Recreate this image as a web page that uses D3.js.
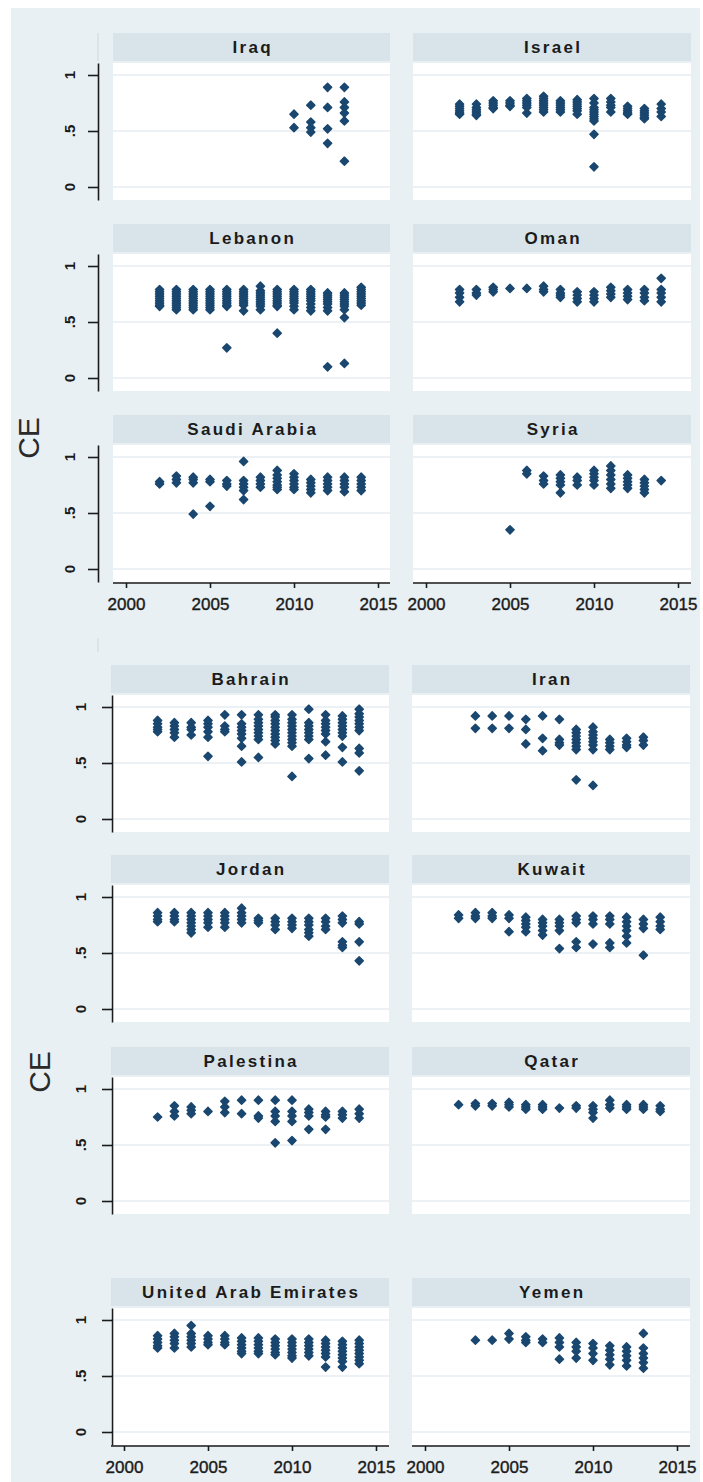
<!DOCTYPE html>
<html>
<head>
<meta charset="utf-8">
<script src="https://cdn.jsdelivr.net/npm/d3@7"></script>
<style>
  html, body { margin: 0; padding: 0; background: #ffffff; }
  svg { display: block; }
</style>
</head>
<body>
<svg id="chart" width="703" height="1482"></svg>
<script>
// ---- CE scores by country: [year, [observations]] ----
const iraq = [
  [2010, [0.65, 0.53]],
  [2011, [0.73, 0.58, 0.53, 0.49]],
  [2012, [0.89, 0.71, 0.52, 0.39]],
  [2013, [0.89, 0.76, 0.71, 0.66, 0.59, 0.23]]
];
const israel = [
  [2002, [0.74, 0.72, 0.70, 0.68, 0.66, 0.65]],
  [2003, [0.74, 0.71, 0.69, 0.67, 0.65, 0.64]],
  [2004, [0.77, 0.75, 0.73, 0.71, 0.70]],
  [2005, [0.77, 0.75, 0.73, 0.72]],
  [2006, [0.79, 0.77, 0.75, 0.73, 0.71, 0.66]],
  [2007, [0.81, 0.79, 0.77, 0.75, 0.73, 0.71, 0.69, 0.67]],
  [2008, [0.77, 0.75, 0.73, 0.71, 0.69, 0.67]],
  [2009, [0.78, 0.76, 0.74, 0.72, 0.70, 0.68, 0.65]],
  [2010, [0.79, 0.75, 0.71, 0.69, 0.67, 0.65, 0.63, 0.61, 0.59, 0.47, 0.18]],
  [2011, [0.79, 0.76, 0.73, 0.71, 0.67]],
  [2012, [0.72, 0.70, 0.68, 0.66, 0.65]],
  [2013, [0.70, 0.68, 0.66, 0.64, 0.62, 0.61]],
  [2014, [0.74, 0.70, 0.67, 0.63]]
];
const lebanon = [
  [2002, [0.79, 0.77, 0.75, 0.73, 0.71, 0.69, 0.67, 0.65, 0.64]],
  [2003, [0.79, 0.77, 0.75, 0.73, 0.71, 0.69, 0.67, 0.65, 0.63, 0.61]],
  [2004, [0.79, 0.77, 0.75, 0.73, 0.71, 0.69, 0.67, 0.65, 0.63, 0.61]],
  [2005, [0.79, 0.77, 0.75, 0.73, 0.71, 0.69, 0.67, 0.65, 0.63, 0.61]],
  [2006, [0.79, 0.77, 0.75, 0.73, 0.71, 0.69, 0.67, 0.65, 0.64, 0.27]],
  [2007, [0.79, 0.77, 0.75, 0.73, 0.71, 0.69, 0.67, 0.65, 0.60]],
  [2008, [0.82, 0.78, 0.76, 0.74, 0.72, 0.70, 0.68, 0.66, 0.64, 0.61]],
  [2009, [0.79, 0.77, 0.75, 0.73, 0.71, 0.69, 0.67, 0.65, 0.64, 0.40]],
  [2010, [0.79, 0.77, 0.75, 0.73, 0.71, 0.69, 0.67, 0.64, 0.61]],
  [2011, [0.79, 0.77, 0.75, 0.73, 0.71, 0.69, 0.66, 0.63, 0.60]],
  [2012, [0.76, 0.74, 0.72, 0.70, 0.68, 0.66, 0.63, 0.60, 0.10]],
  [2013, [0.76, 0.74, 0.72, 0.70, 0.68, 0.66, 0.64, 0.61, 0.54, 0.13]],
  [2014, [0.81, 0.79, 0.77, 0.75, 0.73, 0.71, 0.69, 0.67, 0.65]]
];
const oman = [
  [2002, [0.79, 0.76, 0.72, 0.68]],
  [2003, [0.79, 0.76, 0.74]],
  [2004, [0.81, 0.79, 0.77]],
  [2005, [0.80]],
  [2006, [0.80]],
  [2007, [0.82, 0.79, 0.77]],
  [2008, [0.79, 0.76, 0.74, 0.72]],
  [2009, [0.77, 0.74, 0.71, 0.68]],
  [2010, [0.77, 0.74, 0.71, 0.68]],
  [2011, [0.81, 0.78, 0.75, 0.72]],
  [2012, [0.79, 0.76, 0.73, 0.70]],
  [2013, [0.79, 0.76, 0.72, 0.69]],
  [2014, [0.89, 0.79, 0.76, 0.72, 0.68]]
];
const saudiArabia = [
  [2002, [0.78, 0.76]],
  [2003, [0.83, 0.80, 0.77]],
  [2004, [0.82, 0.80, 0.77, 0.49]],
  [2005, [0.80, 0.78, 0.56]],
  [2006, [0.79, 0.76, 0.74]],
  [2007, [0.96, 0.79, 0.76, 0.73, 0.70, 0.62]],
  [2008, [0.82, 0.79, 0.76, 0.73]],
  [2009, [0.88, 0.84, 0.81, 0.78, 0.75, 0.73, 0.71]],
  [2010, [0.85, 0.82, 0.79, 0.76, 0.73, 0.71]],
  [2011, [0.80, 0.77, 0.74, 0.71, 0.68]],
  [2012, [0.82, 0.79, 0.76, 0.73, 0.70]],
  [2013, [0.82, 0.79, 0.76, 0.73, 0.69]],
  [2014, [0.82, 0.79, 0.76, 0.73, 0.70]]
];
const syria = [
  [2005, [0.35]],
  [2006, [0.88, 0.85]],
  [2007, [0.83, 0.79, 0.76]],
  [2008, [0.84, 0.81, 0.78, 0.75, 0.68]],
  [2009, [0.82, 0.79, 0.75]],
  [2010, [0.88, 0.85, 0.82, 0.79, 0.75]],
  [2011, [0.92, 0.88, 0.84, 0.80, 0.76, 0.72]],
  [2012, [0.84, 0.81, 0.78, 0.75, 0.72]],
  [2013, [0.80, 0.77, 0.74, 0.71, 0.68]],
  [2014, [0.79]]
];
const bahrain = [
  [2002, [0.88, 0.85, 0.82, 0.80, 0.78]],
  [2003, [0.86, 0.83, 0.80, 0.77, 0.73]],
  [2004, [0.86, 0.82, 0.80, 0.75]],
  [2005, [0.88, 0.85, 0.82, 0.78, 0.73, 0.56]],
  [2006, [0.93, 0.83, 0.80, 0.78]],
  [2007, [0.93, 0.85, 0.82, 0.79, 0.76, 0.72, 0.65, 0.51]],
  [2008, [0.93, 0.89, 0.86, 0.83, 0.80, 0.77, 0.74, 0.71, 0.55]],
  [2009, [0.93, 0.91, 0.88, 0.85, 0.82, 0.79, 0.76, 0.73, 0.70, 0.67]],
  [2010, [0.93, 0.89, 0.86, 0.83, 0.80, 0.77, 0.74, 0.71, 0.68, 0.65, 0.38]],
  [2011, [0.98, 0.86, 0.83, 0.80, 0.77, 0.74, 0.71, 0.54]],
  [2012, [0.93, 0.88, 0.85, 0.82, 0.79, 0.76, 0.69, 0.57]],
  [2013, [0.92, 0.89, 0.86, 0.83, 0.80, 0.77, 0.74, 0.64, 0.51]],
  [2014, [0.98, 0.94, 0.91, 0.88, 0.85, 0.82, 0.79, 0.63, 0.59, 0.43]]
];
const iran = [
  [2003, [0.92, 0.81]],
  [2004, [0.92, 0.81]],
  [2005, [0.92, 0.81]],
  [2006, [0.89, 0.80, 0.67]],
  [2007, [0.92, 0.72, 0.61]],
  [2008, [0.89, 0.71, 0.68, 0.66]],
  [2009, [0.80, 0.77, 0.74, 0.71, 0.68, 0.65, 0.62, 0.35]],
  [2010, [0.82, 0.78, 0.75, 0.72, 0.69, 0.66, 0.62, 0.30]],
  [2011, [0.71, 0.68, 0.65, 0.62]],
  [2012, [0.72, 0.69, 0.66, 0.64]],
  [2013, [0.73, 0.70, 0.66]]
];
const jordan = [
  [2002, [0.86, 0.83, 0.80, 0.78]],
  [2003, [0.86, 0.83, 0.80, 0.78]],
  [2004, [0.86, 0.83, 0.80, 0.77, 0.74, 0.71, 0.68]],
  [2005, [0.86, 0.83, 0.80, 0.77, 0.73]],
  [2006, [0.86, 0.83, 0.80, 0.77, 0.73]],
  [2007, [0.90, 0.86, 0.83, 0.80, 0.77]],
  [2008, [0.81, 0.79, 0.77]],
  [2009, [0.81, 0.78, 0.75, 0.71]],
  [2010, [0.81, 0.78, 0.75, 0.72]],
  [2011, [0.81, 0.78, 0.75, 0.71, 0.68, 0.65]],
  [2012, [0.81, 0.78, 0.74, 0.71]],
  [2013, [0.83, 0.80, 0.77, 0.60, 0.57, 0.55]],
  [2014, [0.78, 0.76, 0.60, 0.43]]
];
const kuwait = [
  [2002, [0.84, 0.81]],
  [2003, [0.86, 0.83, 0.81]],
  [2004, [0.86, 0.83, 0.81]],
  [2005, [0.84, 0.81, 0.69]],
  [2006, [0.82, 0.79, 0.76, 0.73, 0.69]],
  [2007, [0.80, 0.77, 0.74, 0.70, 0.66]],
  [2008, [0.80, 0.77, 0.74, 0.70, 0.54]],
  [2009, [0.83, 0.80, 0.77, 0.60, 0.55]],
  [2010, [0.83, 0.80, 0.76, 0.58]],
  [2011, [0.83, 0.80, 0.76, 0.59, 0.55]],
  [2012, [0.82, 0.78, 0.74, 0.70, 0.65, 0.59]],
  [2013, [0.80, 0.76, 0.72, 0.48]],
  [2014, [0.82, 0.78, 0.74, 0.71]]
];
const palestina = [
  [2002, [0.75]],
  [2003, [0.85, 0.80, 0.76]],
  [2004, [0.84, 0.81, 0.78]],
  [2005, [0.80]],
  [2006, [0.89, 0.84, 0.79]],
  [2007, [0.90, 0.78]],
  [2008, [0.90, 0.76, 0.74]],
  [2009, [0.90, 0.80, 0.76, 0.71, 0.52]],
  [2010, [0.90, 0.80, 0.76, 0.71, 0.54]],
  [2011, [0.82, 0.79, 0.76, 0.64]],
  [2012, [0.80, 0.77, 0.75, 0.64]],
  [2013, [0.80, 0.77, 0.74]],
  [2014, [0.82, 0.78, 0.74]]
];
const qatar = [
  [2002, [0.86]],
  [2003, [0.87, 0.85]],
  [2004, [0.87, 0.85]],
  [2005, [0.88, 0.86, 0.84]],
  [2006, [0.86, 0.84, 0.82]],
  [2007, [0.86, 0.84, 0.82]],
  [2008, [0.83]],
  [2009, [0.85, 0.83]],
  [2010, [0.85, 0.82, 0.79, 0.74]],
  [2011, [0.90, 0.86, 0.83]],
  [2012, [0.86, 0.84, 0.82]],
  [2013, [0.86, 0.84, 0.82]],
  [2014, [0.85, 0.82, 0.80]]
];
const uae = [
  [2002, [0.86, 0.83, 0.80, 0.77, 0.75]],
  [2003, [0.88, 0.85, 0.82, 0.79, 0.75]],
  [2004, [0.95, 0.88, 0.85, 0.82, 0.79, 0.76]],
  [2005, [0.86, 0.83, 0.80, 0.78]],
  [2006, [0.86, 0.83, 0.80, 0.78]],
  [2007, [0.84, 0.81, 0.78, 0.75, 0.72, 0.70]],
  [2008, [0.84, 0.81, 0.78, 0.75, 0.72, 0.70]],
  [2009, [0.83, 0.80, 0.77, 0.74, 0.71, 0.69]],
  [2010, [0.83, 0.80, 0.77, 0.74, 0.71, 0.68, 0.66]],
  [2011, [0.83, 0.80, 0.77, 0.74, 0.71, 0.68]],
  [2012, [0.82, 0.79, 0.76, 0.73, 0.70, 0.67, 0.58]],
  [2013, [0.81, 0.78, 0.75, 0.72, 0.69, 0.66, 0.63, 0.58]],
  [2014, [0.82, 0.79, 0.76, 0.73, 0.70, 0.67, 0.64, 0.61]]
];
const yemen = [
  [2003, [0.82]],
  [2004, [0.82]],
  [2005, [0.88, 0.83]],
  [2006, [0.85, 0.82, 0.80]],
  [2007, [0.83, 0.80]],
  [2008, [0.84, 0.80, 0.76, 0.65]],
  [2009, [0.80, 0.76, 0.72, 0.66]],
  [2010, [0.79, 0.75, 0.70, 0.64]],
  [2011, [0.77, 0.73, 0.69, 0.65, 0.60]],
  [2012, [0.76, 0.72, 0.68, 0.64, 0.59]],
  [2013, [0.88, 0.75, 0.70, 0.66, 0.62, 0.57]]
];

// Panel titles, in reading order, paired with their series
const groupA = [
  ["Iraq", iraq], ["Israel", israel],
  ["Lebanon", lebanon], ["Oman", oman],
  ["Saudi Arabia", saudiArabia], ["Syria", syria]
];
const groupB = [
  ["Bahrain", bahrain], ["Iran", iran],
  ["Jordan", jordan], ["Kuwait", kuwait],
  ["Palestina", palestina], ["Qatar", qatar],
  ["United Arab Emirates", uae], ["Yemen", yemen]
];

// Axis ticks
const yearTicks = [2000, 2005, 2010, 2015];
const ceTicks = [0, 0.5, 1];
const ceTickLabels = ["0", ".5", "1"];
const yTitle = "CE";

// ---- styling ----
const BG = "#e9f0f3";
const STRIP = "#d8e4ea";
const GRID = "#e4edf0";
const MARK = "#1a476f";
const INK = "#1b1b1b";
const FONT = "'Liberation Sans', Arial, sans-serif";

const svg = d3.select("#chart");

svg.append("rect")
  .attr("x", 11).attr("y", 8)
  .attr("width", 689).attr("height", 1474)
  .attr("fill", BG);

// Layout of the two faceted graphs
const layoutA = {
  cols: [113, 413], widths: [277, 278],
  stripTops: [33, 224, 415],
  axisX: 98, labelX: 75,
  titleX: 29, titleY: 438
};
const layoutB = {
  cols: [111, 412], widths: [278, 278],
  stripTops: [665, 855, 1047, 1278],
  axisX: 112, labelX: 86,
  titleX: 40, titleY: 1072
};

const STRIP_H = 28;
const PLOT_GAP = 2;
const PLOT_H = 137;

function drawGroup(panels, L) {
  const nRows = Math.ceil(panels.length / 2);

  panels.forEach(([name, series], i) => {
    const row = Math.floor(i / 2), col = i % 2;
    const px = L.cols[col], pw = L.widths[col];
    const st = L.stripTops[row];
    const pt = st + STRIP_H + PLOT_GAP;

    // y: value 1 sits 12px under the plot top, 0 sits 13px above its bottom
    const y = d3.scaleLinear()
      .domain([-13 / 112, 1 + 12 / 112])
      .range([pt + PLOT_H, pt]);
    const x = d3.scaleLinear()
      .domain([2000, 2015])
      .range([px + 13, px + 265]);

    const g = svg.append("g");

    // title strip
    g.append("rect")
      .attr("x", px).attr("y", st)
      .attr("width", pw).attr("height", STRIP_H)
      .attr("fill", STRIP);
    g.append("text")
      .attr("x", px + pw / 2 + 1.2)
      .attr("y", st + STRIP_H / 2 + 6)
      .attr("text-anchor", "middle")
      .attr("font-family", FONT)
      .attr("font-size", 17)
      .attr("font-weight", "bold")
      .attr("letter-spacing", "2.3px")
      .attr("fill", INK)
      .text(name);

    // plot region
    g.append("rect")
      .attr("x", px).attr("y", pt)
      .attr("width", pw).attr("height", PLOT_H)
      .attr("fill", "#ffffff");

    // grid lines
    g.selectAll("line.grid")
      .data(ceTicks)
      .join("line")
      .attr("class", "grid")
      .attr("x1", px).attr("x2", px + pw)
      .attr("y1", d => y(d)).attr("y2", d => y(d))
      .attr("stroke", GRID)
      .attr("stroke-width", 1.3);

    // observations
    const pts = series.flatMap(([yr, vals]) => vals.map(v => ({ yr, v })));
    const sym = d3.symbol(d3.symbolSquare, 34);
    g.selectAll("path.pt")
      .data(pts)
      .join("path")
      .attr("class", "pt")
      .attr("d", sym)
      .attr("transform", d => `translate(${x(d.yr)},${y(d.v)}) rotate(45)`)
      .attr("fill", MARK)
      .attr("stroke", MARK)
      .attr("stroke-width", 1.4)
      .attr("stroke-linejoin", "round");

    // y axis on the left column
    if (col === 0) {
      const ax = g.append("g")
        .attr("transform", `translate(${L.axisX},0)`)
        .call(d3.axisLeft(y).tickValues(ceTicks).tickSize(10).tickSizeOuter(0).tickFormat(""));
      ax.select(".domain").attr("stroke", INK).attr("stroke-width", 1.6);
      ax.selectAll(".tick line").attr("stroke", INK).attr("stroke-width", 1.6);
      ax.selectAll(".tick text").remove();

      g.selectAll("text.ylab")
        .data(ceTicks)
        .join("text")
        .attr("class", "ylab")
        .attr("transform", d => `translate(${L.labelX},${y(d)}) rotate(-90)`)
        .attr("text-anchor", "middle")
        .attr("font-family", FONT)
        .attr("font-size", 15)
        .attr("font-weight", "bold")
        .attr("fill", INK)
        .text((d, k) => ceTickLabels[k]);
    }

    // x axis under the last row
    if (row === nRows - 1) {
      const ay = pt + PLOT_H + 1;
      const axg = g.append("g")
        .attr("transform", `translate(0,${ay})`)
        .call(d3.axisBottom(x).tickValues(yearTicks).tickSize(5).tickSizeOuter(0).tickPadding(10).tickFormat(d3.format("d")));
      axg.select(".domain").remove();
      axg.selectAll(".tick line").attr("stroke", INK).attr("stroke-width", 1.6);
      axg.selectAll(".tick text")
        .attr("font-family", FONT)
        .attr("font-size", 17)
        .attr("fill", INK)
        .attr("stroke", INK)
        .attr("stroke-width", 0.4);
      axg.append("line")
        .attr("x1", px).attr("x2", px + pw)
        .attr("y1", 0).attr("y2", 0)
        .attr("stroke", INK).attr("stroke-width", 1.6);
    }
  });

  // shared y title
  svg.append("text")
    .attr("transform", `translate(${L.titleX + 10},${L.titleY}) rotate(-90)`)
    .attr("text-anchor", "middle")
    .attr("font-family", FONT)
    .attr("font-size", 30)
    .attr("fill", "#2a2a2a")
    .text(yTitle);
}

drawGroup(groupA, layoutA);
drawGroup(groupB, layoutB);

// faint rule marks left of the strips
svg.append("line")
  .attr("x1", 98).attr("x2", 98).attr("y1", 33).attr("y2", 61)
  .attr("stroke", "#cfd8dc").attr("stroke-width", 1);
svg.append("line")
  .attr("x1", 98).attr("x2", 98).attr("y1", 638).attr("y2", 652)
  .attr("stroke", "#cfd8dc").attr("stroke-width", 1);
</script>
</body>
</html>
